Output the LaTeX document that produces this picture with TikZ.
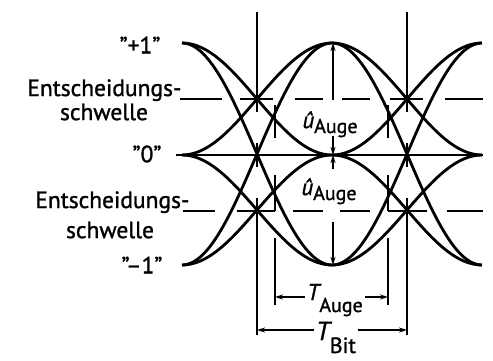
\documentclass[tikz,border=0pt]{standalone}
\usepackage{fontspec}
\setmainfont[FakeBold=1.2]{PT Sans}
\usetikzlibrary{arrows.meta}

\begin{document}
\begin{tikzpicture}[x=1pt, y=-1pt, font=\fontsize{23.5}{26}\selectfont,
  sig/.style={line width=2.8pt, line join=round},
  guide/.style={line width=1.8pt},
  dim/.style={line width=1.5pt, -{Stealth[length=8pt, width=5pt]}},
  lbl/.style={inner sep=2pt}]
  \useasboundingbox (0,0) rectangle (493,360);

  % Level and threshold labels
  \node (pone) at (140,45) {''+1''};
  \node[anchor=base east] (thrup) at (185,96) {Entscheidungs-};
  \node (schwup) at (104,112) {schwelle};
  \node (zero) at (147,154) {''0''};
  \node[anchor=base east] (thrlow) at (193,208) {Entscheidungs-};
  \node (schwlow) at (110,230) {schwelle};
  \node (mone) at (142,265) {''--1''};

  % Zero line
  \draw[guide] (176,155) -- (483,155);

  % Decision thresholds (broken lines)
  \draw[guide] (180,99) -- (222,99) (240,99) -- (273,99) (295,99) -- (323,99)
               (342,99) -- (370,99) (390,99) -- (423,99) (445,99) -- (483,99);
  \draw[guide] (183,211) -- (215,211) (237,211) -- (275,211) (293,211) -- (323,211)
               (340,211) -- (370,211) (388,211) -- (427,211) (447,211) -- (483,211);

  % Eye curves, left half
  \draw[sig] plot[domain=0:1, samples=40, smooth] ({182+150*\x}, {43+112*(1-cos(180*\x))/2});
  \draw[sig] plot[domain=0:1, samples=40, smooth] ({182+150*\x}, {43+222*(1-cos(180*\x))/2});
  \draw[sig] plot[domain=0:1, samples=40, smooth] ({182+150*\x}, {155-112*(1-cos(180*\x))/2});
  \draw[sig] plot[domain=0:1, samples=40, smooth] ({182+150*\x}, {155+110*(1-cos(180*\x))/2});
  \draw[sig] plot[domain=0:1, samples=40, smooth] ({182+150*\x}, {265-110*(1-cos(180*\x))/2});
  \draw[sig] plot[domain=0:1, samples=40, smooth] ({182+150*\x}, {265-222*(1-cos(180*\x))/2});
  % Eye curves, right half
  \draw[sig] plot[domain=0:1, samples=40, smooth] ({332+150*\x}, {43+112*(1-cos(180*\x))/2});
  \draw[sig] plot[domain=0:1, samples=40, smooth] ({332+150*\x}, {43+222*(1-cos(180*\x))/2});
  \draw[sig] plot[domain=0:1, samples=40, smooth] ({332+150*\x}, {155-112*(1-cos(180*\x))/2});
  \draw[sig] plot[domain=0:1, samples=40, smooth] ({332+150*\x}, {155+110*(1-cos(180*\x))/2});
  \draw[sig] plot[domain=0:1, samples=40, smooth] ({332+150*\x}, {265-110*(1-cos(180*\x))/2});
  \draw[sig] plot[domain=0:1, samples=40, smooth] ({332+150*\x}, {265-222*(1-cos(180*\x))/2});

  % Crossing marks and bit period limits
  \draw[guide] (257,12) -- (257,112) (257,143) -- (257,167) (257,198) -- (257,335);
  \draw[guide] (407,12) -- (407,112) (407,143) -- (407,167) (407,198) -- (407,335);

  % Eye width limits
  \draw[guide] (275,105) -- (275,138) (275,175) -- (275,211) (275,238) -- (275,305);
  \draw[guide] (388,105) -- (388,138) (388,175) -- (388,211) (388,238) -- (388,305);

  % Eye height
  \coordinate (ptop) at (333,43);
  \coordinate (pmid) at (333,155);
  \coordinate (pbot) at (333,265);
  \coordinate (ua) at (333,100);
  \coordinate (ub) at (333,136);
  \coordinate (uc) at (333,169);
  \coordinate (ud) at (333,222);
  \node[lbl, anchor=base] (uup) at (330,128)
    {{\fontsize{23}{24}\selectfont\itshape û}\raisebox{-5pt}{\fontsize{20}{21}\selectfont Auge}};
  \node[lbl, anchor=base] (ulow) at (329,195)
    {{\fontsize{23}{24}\selectfont\itshape û}\raisebox{-5pt}{\fontsize{20}{21}\selectfont Auge}};
  \draw[dim] (ua) -- (ptop);
  \draw[dim] (ub) -- (pmid);
  \draw[dim] (uc) -- (pmid);
  \draw[dim] (ud) -- (pbot);

  % Eye width and bit period
  \node[lbl, anchor=base] (tauge) at (335,300)
    {{\fontsize{23}{24}\selectfont\itshape T}\raisebox{-12pt}{\fontsize{20}{22}\selectfont Auge}};
  \coordinate (al) at (275,297);
  \coordinate (ar) at (388,297);
  \draw[dim] (tauge.west |- al) -- (al);
  \draw[dim] (tauge.east |- ar) -- (ar);

  \node[lbl, anchor=base] (tbit) at (336,340)
    {{\fontsize{26}{27}\selectfont\itshape T}\raisebox{-13pt}{\fontsize{22}{24}\selectfont Bit}};
  \coordinate (bl) at (257,330);
  \coordinate (br) at (407,330);
  \draw[dim] (tbit.west |- bl) -- (bl);
  \draw[dim] (tbit.east |- br) -- (br);
\end{tikzpicture}
\end{document}
